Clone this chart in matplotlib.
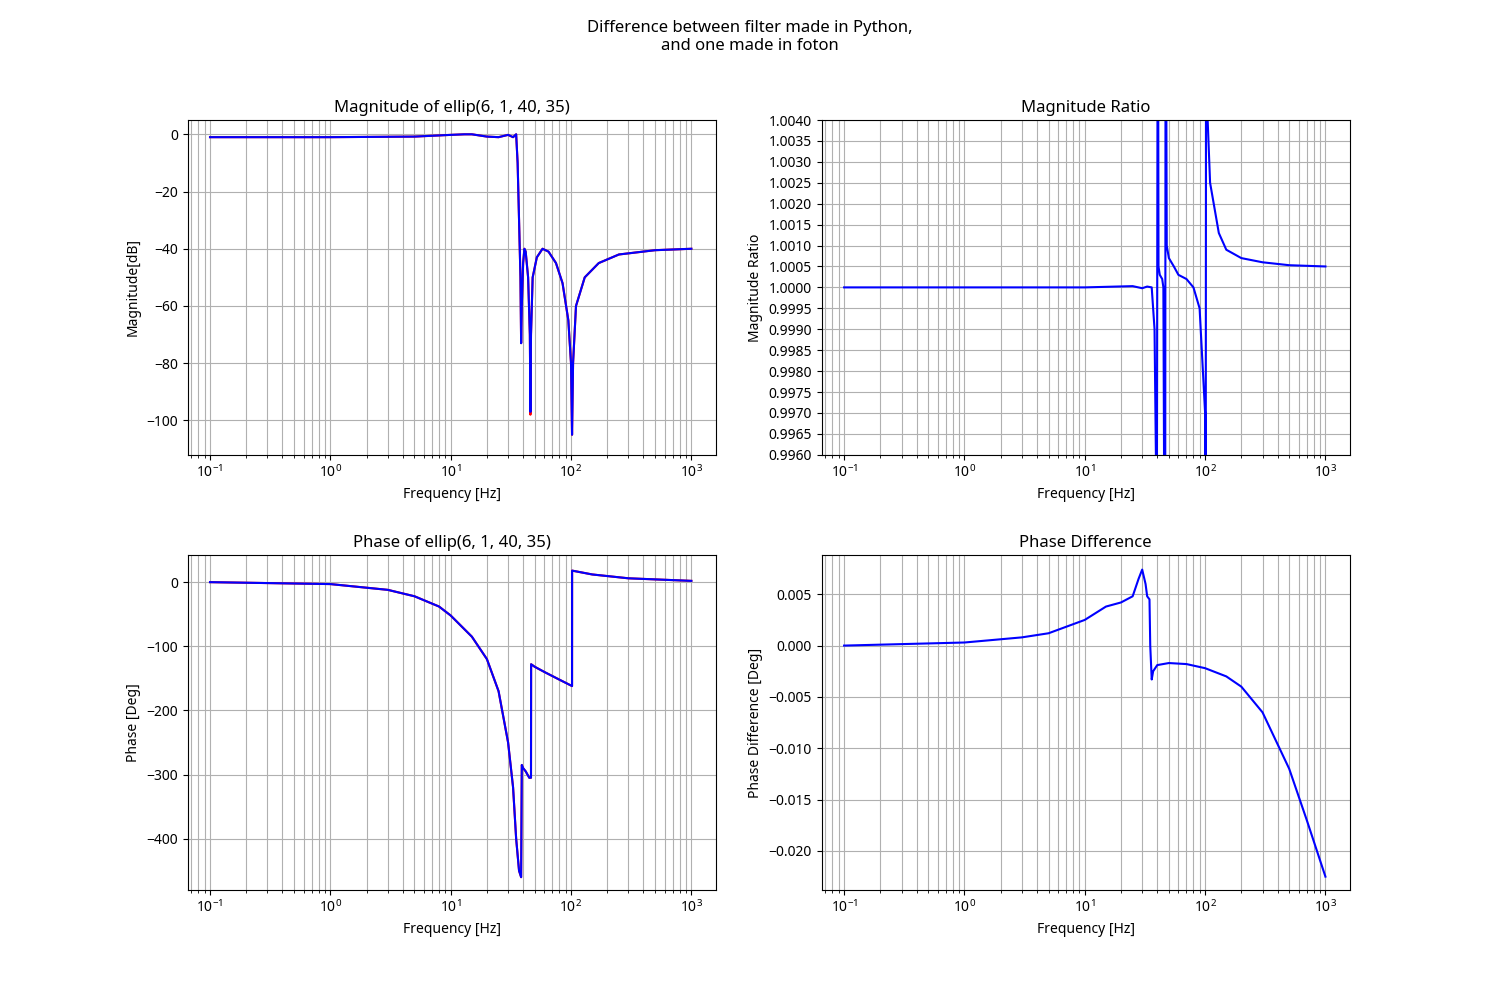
import matplotlib.pyplot as plt
import matplotlib.ticker as mticker

plt.rcParams['font.family'] = ['Noto Sans', 'DejaVu Sans']

# values
mag_f = [0.1, 1, 5, 10, 13, 15, 20, 25, 30, 33, 35, 36, 37, 38, 38.5, 39, 40, 41, 42, 44,
         45.5, 46, 46.5, 48, 52, 58, 65, 75, 85, 95, 100, 102, 104, 110, 130, 170, 250, 500, 1000]
mag_db = [-1, -1, -0.8, -0.2, 0, 0, -0.8, -1, -0.2, -1, 0, -10, -30, -50, -73, -60, -45, -40,
          -41, -50, -70, -97, -70, -50, -43, -40, -41, -45, -52, -65, -80, -105, -80, -60, -50,
          -45, -42, -40.5, -40]
mag_db_foton = mag_db[:21] + [-98] + mag_db[22:]

ph_f = [0.1, 1, 3, 5, 8, 10, 15, 20, 25, 30, 33, 35, 37, 38.5, 39, 40, 42, 45, 46.5, 46.6,
        50, 60, 80, 102, 102.1, 150, 300, 1000]
ph_deg = [0, -3, -12, -22, -38, -52, -85, -120, -170, -250, -320, -400, -450, -460, -285,
          -290, -295, -305, -305, -128, -132, -140, -152, -162, 18, 12, 6, 2]

ratio_f = [0.1, 10, 25, 30, 33, 36, 38, 39, 39.5, 40.5, 41, 42, 44, 45, 46, 46.5, 47, 48, 50,
           55, 60, 70, 80, 90, 100, 101, 102, 105, 110, 130, 150, 200, 300, 500, 1000]
ratio = [1.0, 1.0, 1.00003, 0.99998, 1.00002, 1.0, 0.999, 0.996, 0.99, 1.01, 1.0005, 1.0003,
         1.0002, 1.0, 0.993, 0.99, 1.01, 1.001, 1.0007, 1.0005, 1.0003, 1.0002, 1.0, 0.9995,
         0.997, 0.99, 1.01, 1.004, 1.0025, 1.0013, 1.0009, 1.0007, 1.0006, 1.00053, 1.0005]

pd_f = [0.1, 1, 3, 5, 10, 15, 20, 25, 28, 30, 32, 33, 34.5, 35, 36, 37, 40, 50, 70, 100, 150,
        200, 300, 500, 700, 1000]
pd_deg = [0, 0.0003, 0.0008, 0.0012, 0.0025, 0.0038, 0.0042, 0.0048, 0.0065, 0.0074, 0.006,
          0.0048, 0.0045, 0.0, -0.0033, -0.0025, -0.0019, -0.0017, -0.0018, -0.0022, -0.003,
          -0.004, -0.0065, -0.012, -0.017, -0.0225]

fig, axes = plt.subplots(2, 2, figsize=(15, 10), dpi=100)
fig.subplots_adjust(hspace=0.3)
fig.suptitle("Difference between filter made in Python,\nand one made in foton", fontsize=12)

ax = axes[0, 0]
ax.semilogx(mag_f, mag_db_foton, color="r", lw=1.5)
ax.semilogx(mag_f, mag_db, color="b", lw=1.5)
ax.set_ylim(-112, 5)
ax.set_title("Magnitude of ellip(6, 1, 40, 35)")
ax.set_ylabel("Magnitude[dB]")

ax = axes[0, 1]
ax.semilogx(ratio_f, ratio, color="b", lw=1.5)
ax.set_ylim(0.996, 1.004)
ax.yaxis.set_major_locator(mticker.MultipleLocator(0.0005))
ax.yaxis.set_major_formatter(mticker.FormatStrFormatter("%.4f"))
ax.set_title("Magnitude Ratio")
ax.set_ylabel("Magnitude Ratio")

ax = axes[1, 0]
ax.semilogx(ph_f, ph_deg, color="r", lw=1.5)
ax.semilogx(ph_f, ph_deg, color="b", lw=1.5)
ax.set_ylim(-480, 42)
ax.set_title("Phase of ellip(6, 1, 40, 35)")
ax.set_ylabel("Phase [Deg]")

ax = axes[1, 1]
ax.semilogx(pd_f, pd_deg, color="b", lw=1.5)
ax.set_ylim(-0.0238, 0.0088)
ax.set_title("Phase Difference")
ax.set_ylabel("Phase Difference [Deg]")

for ax in axes.flat:
    ax.set_xlim(0.065, 1600)
    ax.set_xlabel("Frequency [Hz]")
    ax.grid(True, which="both", color="#b0b0b0", lw=0.8)

fig.savefig("out.png", dpi=100)
